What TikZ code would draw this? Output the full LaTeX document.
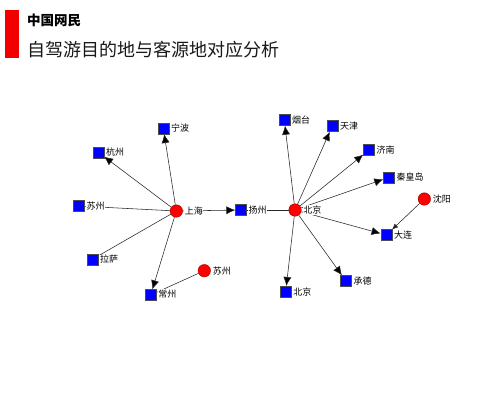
\documentclass[tikz,border=0pt]{standalone}
\usepackage{fontspec}
\setmainfont{Noto Sans CJK SC}
\newfontfamily\cjk{Noto Sans CJK SC}
\usetikzlibrary{arrows.meta,backgrounds}
\tikzset{
  src/.style={circle,fill=red,draw=red!60!black,line width=0.4pt,minimum size=12.5pt,inner sep=0pt},
  dst/.style={rectangle,fill=blue,draw=black!70,line width=0.4pt,minimum size=11pt,inner sep=0pt},
  lab/.style={fill=white,inner sep=0.6pt,font=\cjk\fontsize{9}{10}\selectfont,text=black},
  every label/.style={lab},
  edge/.style={draw=black!85,line width=0.55pt},
  arr/.style={edge,-{Latex[length=9pt,width=8pt,fill=black]}},
  label distance=1.2pt
}
\begin{document}
\begin{tikzpicture}[x=1pt,y=-1pt]
\useasboundingbox (0,0) rectangle (500,400);
\begin{scope}[on background layer]
\fill[white] (0,0) rectangle (500,400);
\end{scope}
% header
\fill[red!95!black] (5,10) rectangle (19,58);
\node[anchor=west,inner sep=0pt,font=\cjk\bfseries\fontsize{13.5}{15}\selectfont] (t1) at (27,20) {中国网民};
\node[anchor=west,inner sep=0pt,font=\cjk\fontsize{18}{20}\selectfont,text=black!90] (t2) at (27,50) {自驾游目的地与客源地对应分析};
% nodes
\node[src,label=right:上海] (sh) at (176.3,211) {};
\node[src,label=right:北京] (bj) at (295,210) {};
\node[src,label=right:苏州] (szc) at (204.3,270.7) {};
\node[src,label=right:沈阳] (sy) at (424.3,199) {};
\node[dst,label=right:宁波] (nb) at (163.3,128.3) {};
\node[dst,label=right:杭州] (hz) at (98.3,152.3) {};
\node[dst,label=right:苏州] (sz) at (79,206) {};
\node[dst,label=right:拉萨] (ls) at (92.3,259.3) {};
\node[dst,label={[yshift=1pt]right:常州}] (cz) at (150.7,295) {};
\node[dst,label=right:扬州] (yz) at (241,210) {};
\node[dst,label=right:烟台] (yt) at (284.3,120) {};
\node[dst,label=right:天津] (tj) at (332.3,126) {};
\node[dst,label=right:济南] (jn) at (369,150) {};
\node[dst,label=right:秦皇岛] (qhd) at (389,177.3) {};
\node[dst,label=right:大连] (dl) at (386.3,235) {};
\node[dst,label=right:承德] (cd) at (346,281) {};
\node[dst,label=right:北京] (bjs) at (285.7,291.7) {};
% edges
\begin{scope}[on background layer]
\draw[arr] (sh) -- (nb);
\draw[arr] (sh) -- (hz);
\draw[edge] (sh) -- (sz);
\draw[edge] (sh) -- (ls);
\draw[arr] (sh) -- (cz);
\draw[arr] (sh) -- (yz);
\draw[edge] (szc) -- (cz);
\draw[edge] (bj) -- (yz);
\draw[arr] (bj) -- (yt);
\draw[arr] (bj) -- (tj);
\draw[arr] (bj) -- (jn);
\draw[arr] (bj) -- (qhd);
\draw[arr] (bj) -- (dl);
\draw[arr] (bj) -- (cd);
\draw[arr] (bj) -- (bjs);
\draw[edge,-{Latex[length=6pt,width=5pt]}] (sy) -- (dl);
\end{scope}
\end{tikzpicture}
\end{document}
